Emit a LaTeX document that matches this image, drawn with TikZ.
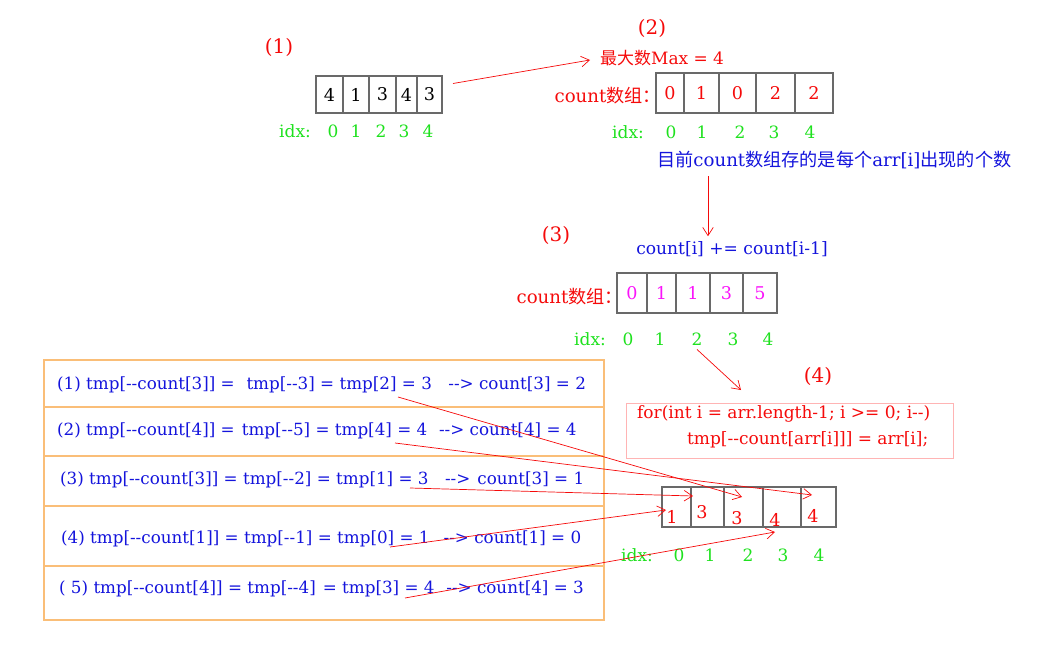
\documentclass[tikz,border=0pt]{standalone}
\usepackage{fontspec}
\setmainfont{DejaVu Serif}[Ligatures=TeXOff]
\newfontfamily\cjk{Noto Sans CJK SC}
\usetikzlibrary{
    arrows.meta,
    calc,
    positioning
}
\definecolor{hlred}{RGB}{245,10,10}
\definecolor{hlblue}{RGB}{20,20,220}
\definecolor{hlgreen}{RGB}{30,225,30}
\definecolor{hlmagenta}{RGB}{250,20,250}
\definecolor{boxorange}{RGB}{250,190,120}
\definecolor{codepink}{RGB}{255,180,180}
\definecolor{cellgray}{RGB}{105,105,105}

\begin{document}
\begin{tikzpicture}[x=0.03cm, y=-0.03cm,
    stagelbl/.style={text=hlred, font=\fontsize{17}{19}\selectfont},
    redtxt/.style={text=hlred, font=\fontsize{14.5}{16}\selectfont},
    bluetxt/.style={text=hlblue, font=\fontsize{14.3}{16}\selectfont},
    idxtxt/.style={text=hlgreen, font=\fontsize{14.5}{16}\selectfont},
    cellbox/.style={draw=cellgray, line width=1.2pt, inner sep=0pt, outer sep=0pt,
        font=\fontsize{15}{17}\selectfont},
    redarrow/.style={draw=hlred, line width=0.6pt, -{Straight Barb[length=7pt, width=9pt]}}
]
\useasboundingbox (0,0) rectangle (1037,649);

% (1) input array
\node[stagelbl] (s1) at (279,47) {(1)};
\foreach \l/\r/\v [count=\i from 0] in {316/343/4,343/369/1,369/396/3,396/417/4,417/442/3}
    \node[cellbox, minimum width={(\r-\l)*0.03cm}, minimum height=1.11cm] (a\i) at ({(\l+\r)/2},94.5) {\v};
\node[idxtxt] (i1) at (295,131) {idx:};
\foreach \x [count=\i from 0] in {333,356,381,404,428}
    \node[idxtxt] (i1-\i) at (\x,131) {\i};

% (2) counting
\node[stagelbl] (s2) at (652,28) {(2)};
\node[redtxt, anchor=west] (maxv) at (596,58) {{\cjk 最大数}Max = 4};
\node[redtxt, anchor=east, font=\fontsize{15.5}{17}\selectfont] (cnt2) at (665,96) {count{\cjk 数组：}};
\foreach \l/\r/\v [count=\i from 0] in {656/684/0,684/719/1,719/756/0,756/795/2,795/833/2}
    \node[cellbox, text=hlred, minimum width={(\r-\l)*0.03cm}, minimum height=1.2cm] (b\i) at ({(\l+\r)/2},93) {\v};
\node[idxtxt] (i2) at (628,132) {idx:};
\foreach \x [count=\i from 0] in {671,702,740,774,810}
    \node[idxtxt] (i2-\i) at (\x,132) {\i};
\node[bluetxt, anchor=west, font=\fontsize{15.5}{17}\selectfont] (note) at (653,160)
    {{\cjk 目前}count{\cjk 数组存的是每个}arr[i]{\cjk 出现的个数}};

% (3) prefix sums
\node[stagelbl] (s3) at (556,235) {(3)};
\node[bluetxt, font=\fontsize{14.6}{16}\selectfont] (rule) at (732,249) {count[i] += count[i-1]};
\node[redtxt, anchor=east, font=\fontsize{15.5}{17}\selectfont] (cnt3) at (627,297) {count{\cjk 数组：}};
\foreach \l/\r/\v [count=\i from 0] in {617/647/0,647/676/1,676/710/1,710/743/3,743/777/5}
    \node[cellbox, text=hlmagenta, minimum width={(\r-\l)*0.03cm}, minimum height=1.2cm] (c\i) at ({(\l+\r)/2},293) {\v};
\node[idxtxt] (i3) at (590,339) {idx:};
\foreach \x [count=\i from 0] in {628,660,697,733,768}
    \node[idxtxt] (i3-\i) at (\x,339) {\i};

% (4) placing
\node[stagelbl] (s4) at (818,376) {(4)};
\node[draw=codepink, line width=0.9pt, anchor=north west, minimum width=9.81cm, minimum height=1.65cm] (code) at (626,403) {};
\node[redtxt, anchor=west] (code1) at (633,414) {for(int i = arr.length-1; i >= 0; i--)};
\node[redtxt, anchor=west] (code2) at (683,440) {tmp[--count[arr[i]]] = arr[i];};
\foreach \l/\r/\v/\vx/\vy [count=\i from 0] in {662/691/1/672/517,691/724/3/702/512,724/763/3/737/518,763/801/4/775/520,801/836/4/813/516} {
    \node[cellbox, minimum width={(\r-\l)*0.03cm}, minimum height=1.2cm] (d\i) at ({(\l+\r)/2},507) {};
    \node[redtxt, font=\fontsize{15}{17}\selectfont] (v\i) at (\vx,\vy) {\v};
}
\node[idxtxt] (i4) at (637,555) {idx:};
\foreach \x [count=\i from 0] in {679,710,748,783,819}
    \node[idxtxt] (i4-\i) at (\x,555) {\i};

% steps table
\draw[boxorange, line width=1pt] (44,360) rectangle (604,620);
\foreach \y in {407,456,506,566}
    \draw[boxorange, line width=1pt] (44,\y) -- (604,\y);
\node[bluetxt, anchor=west] (l1) at (53,385) {(1) tmp[--count[3]] =\hspace{10pt}tmp[--3] = tmp[2] = 3\hspace{14pt}--> count[3] = 2};
\node[bluetxt, anchor=west] (l2) at (53,431) {(2) tmp[--count[4]] =\hspace{6pt}tmp[--5] = tmp[4] = 4\hspace{10pt}--> count[4] = 4};
\node[bluetxt, anchor=west] (l3) at (56,480) {(3) tmp[--count[3]] = tmp[--2] = tmp[1] = 3\hspace{14pt}-->\hspace{6pt}count[3] = 1};
\node[bluetxt, anchor=west] (l4) at (57,539) {(4) tmp[--count[1]] = tmp[--1] = tmp[0] = 1\hspace{12pt}--> count[1] = 0};
\node[bluetxt, anchor=west] (l5) at (55,589) {( 5) tmp[--count[4]] = tmp[--4]\hspace{6pt}= tmp[3] = 4\hspace{10pt}--> count[4] = 3};

\coordinate (t1) at (398,397);
\coordinate (t2) at (395,443);
\coordinate (t3) at (410,488);
\coordinate (t4) at (390,547);
\coordinate (t5) at (405,598);
\coordinate (p4) at (741,390);
\coordinate (nt) at ($(note.south west)+(55,3)$);

% connectors
\draw[redarrow] ($(a4.east)+(11,-11)$) -- ($(maxv.west)+(-6,2)$);
\draw[redarrow] (nt) -- ($(nt |- rule.north)+(0,-1)$);
\draw[redarrow] (i3-2.south) -- (p4);
\draw[redarrow] (t1) -- ($(d2.west)+(18,-10)$);
\draw[redarrow] (t2) -- ($(d4.west)+(11,-12)$);
\draw[redarrow] (t3) -- ($(d1.west)+(2,-11)$);
\draw[redarrow] (t4) -- ($(d0.west)+(4,3)$);
\draw[redarrow] (t5) -- ($(d3.south)+(-7,5)$);
\end{tikzpicture}
\end{document}
